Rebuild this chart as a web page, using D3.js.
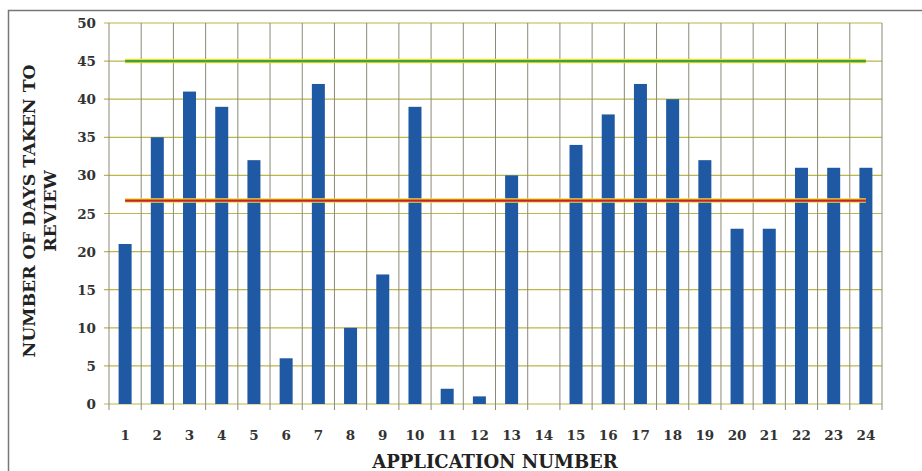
<!DOCTYPE html>
<html>
<head>
<meta charset="utf-8">
<script src="https://cdn.jsdelivr.net/npm/d3@7"></script>
<style>
  html, body { margin: 0; padding: 0; background: #fff; }
  svg { display: block; }
</style>
</head>
<body>
<svg id="chart" width="922" height="471"></svg>
<script>
const categories = ["1","2","3","4","5","6","7","8","9","10","11","12","13","14","15","16","17","18","19","20","21","22","23","24"];
const daysTaken = [21,35,41,39,32,6,42,10,17,39,2,1,30,0,34,38,42,40,32,23,23,31,31,31];
const targetDays = 45;
const averageDays = 26.7;
const yTicks = [0,5,10,15,20,25,30,35,40,45,50];
const yTitleLines = ["NUMBER OF DAYS TAKEN TO", "REVIEW"];
const xTitle = "APPLICATION NUMBER";

const svg = d3.select("#chart");
const margin = {left: 109, right: 40, top: 23, bottom: 67};
const W = 922, H = 471;

const xb = d3.scaleBand().domain(categories).range([margin.left, W - margin.right]);
const y = d3.scaleLinear().domain([0, 50]).range([H - margin.bottom, margin.top]);

const serif = "'DejaVu Serif', 'Liberation Serif', serif";

// outer frame
svg.append("path")
  .attr("d", `M8.5,471 L8.5,10.5 L922,10.5`)
  .attr("fill", "none").attr("stroke", "#777").attr("stroke-width", 1.5);

// horizontal gridlines
svg.append("g").selectAll("line").data(yTicks).join("line")
  .attr("x1", margin.left - 5).attr("x2", W - margin.right)
  .attr("y1", d => y(d)).attr("y2", d => y(d))
  .attr("stroke", "#bdb64a").attr("stroke-width", 1.2);

// vertical gridlines (band boundaries)
const boundaries = categories.map(c => xb(c)).concat([xb(categories[categories.length-1]) + xb.bandwidth()]);
svg.append("g").selectAll("line").data(boundaries).join("line")
  .attr("x1", d => d).attr("x2", d => d)
  .attr("y1", y(50)).attr("y2", y(0) + 6)
  .attr("stroke", "#8a8a78").attr("stroke-width", 1);

// bars
svg.append("g").selectAll("rect").data(daysTaken).join("rect")
  .attr("x", (d, i) => xb(categories[i]) + xb.bandwidth()/2 - 6.5)
  .attr("width", 13)
  .attr("y", d => y(d))
  .attr("height", d => y(0) - y(d))
  .attr("fill", "#1f58a3");

// reference lines
const xStart = xb(categories[0]) + xb.bandwidth()/2;
const xEnd = xb(categories[categories.length-1]) + xb.bandwidth()/2;
function refLine(v, color) {
  svg.append("line").attr("x1", xStart).attr("x2", xEnd).attr("y1", y(v)).attr("y2", y(v))
    .attr("stroke", "#e8e032").attr("stroke-width", 4.5);
  svg.append("line").attr("x1", xStart).attr("x2", xEnd).attr("y1", y(v)).attr("y2", y(v))
    .attr("stroke", color).attr("stroke-width", 2.2);
}
refLine(targetDays, "#46a03a");
refLine(averageDays, "#c8202e");

// y axis labels
svg.append("g").selectAll("text").data(yTicks).join("text")
  .attr("x", 96).attr("y", d => y(d) + 5)
  .attr("text-anchor", "end")
  .attr("font-family", serif).attr("font-weight", "bold").attr("font-size", 13.5)
  .attr("fill", "#333")
  .text(d => d);

// x axis labels
svg.append("g").selectAll("text").data(categories).join("text")
  .attr("x", d => xb(d) + xb.bandwidth()/2).attr("y", 440)
  .attr("text-anchor", "middle")
  .attr("font-family", serif).attr("font-weight", "bold").attr("font-size", 13.5)
  .attr("fill", "#333")
  .text(d => d);

// x title
svg.append("text").attr("x", 495).attr("y", 468)
  .attr("text-anchor", "middle")
  .attr("font-family", serif).attr("font-weight", "bold").attr("font-size", 18)
  .attr("fill", "#222")
  .text(xTitle);

// y title
const yt = svg.append("text")
  .attr("transform", "translate(35,211) rotate(-90)")
  .attr("text-anchor", "middle")
  .attr("font-family", serif).attr("font-weight", "bold").attr("font-size", 17.3)
  .attr("fill", "#222");
yTitleLines.forEach((t, i) => {
  yt.append("tspan").attr("x", 0).attr("dy", i === 0 ? 0 : 21).text(t);
});
</script>
</body>
</html>
